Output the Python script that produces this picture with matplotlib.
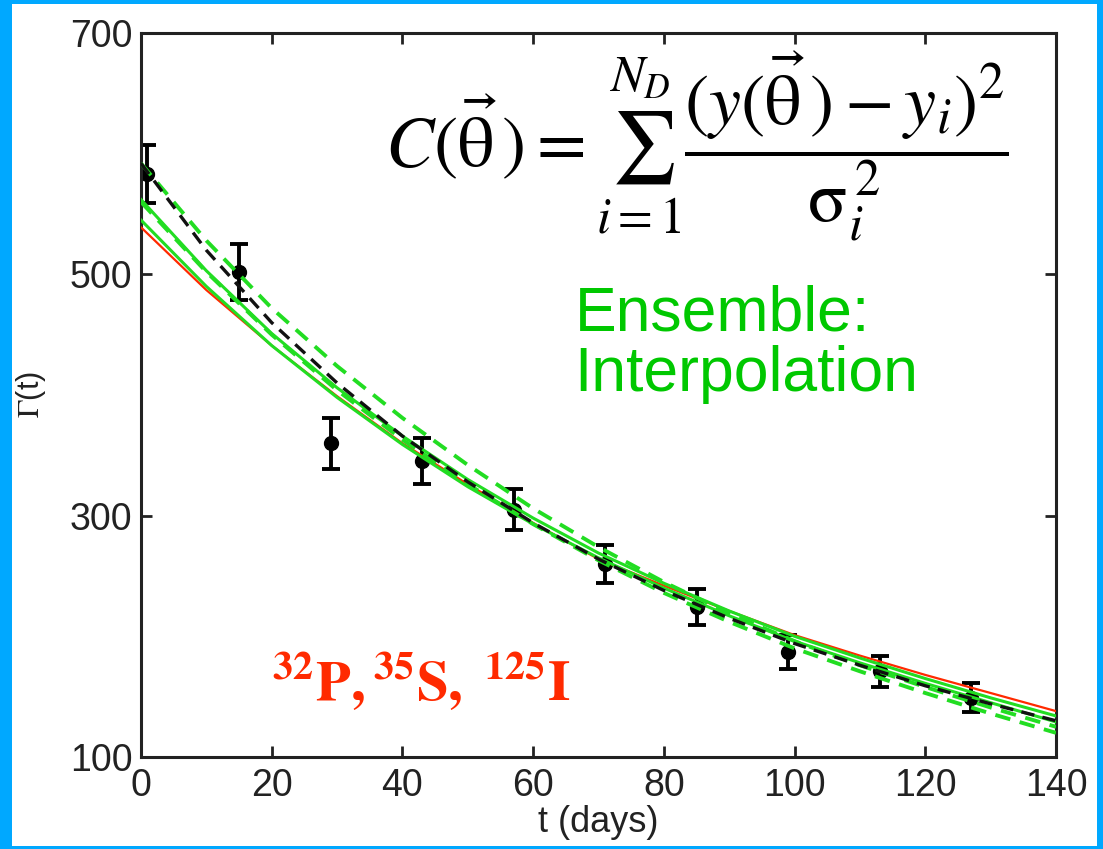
import matplotlib.pyplot as plt
from matplotlib.patches import Rectangle

# puntos medidos (tasa de decaimiento)
t_datos = [1, 15, 29, 43, 57, 71, 85, 99, 113, 127]
gamma_datos = [583, 502, 360, 345, 305, 260, 224, 187, 171, 149]
error_datos = [24, 23, 21, 19, 17, 16, 15, 14, 13, 12]

# curvas del ensamble, leidas cada 10 dias
t_curva = [0, 10, 20, 30, 40, 50, 60, 70, 80, 90, 100, 110, 120, 130, 140]
curva_roja = [539, 487, 441, 399, 360, 326, 294, 264, 242, 221, 201, 184, 168, 153, 138]
curva_negra = [592, 520, 460, 410, 366, 328, 294, 264, 238, 215, 194, 176, 159, 144, 130]
verde_sol_1 = [562, 503, 451, 406, 366, 330, 298, 269, 244, 221, 200, 182, 165, 149, 134]
verde_sol_2 = [545, 490, 441, 398, 359, 324, 293, 265, 240, 217, 196, 178, 161, 145, 129]
verde_dash_1 = [592, 528, 472, 424, 381, 342, 306, 274, 245, 219, 196, 176, 158, 141, 125]
verde_dash_2 = [560, 502, 450, 404, 363, 326, 293, 263, 236, 212, 190, 171, 153, 136, 120]

xticks = [0, 20, 40, 60, 80, 100, 120, 140]
yticks = [100, 300, 500, 700]

azul = '#00A8FF'
verde = '#22DD22'
rojo = '#FF2A00'

plt.rcParams['font.family'] = ['Liberation Sans', 'DejaVu Sans']
plt.rcParams['mathtext.fontset'] = 'stix'

fig = plt.figure(figsize=(11.03, 8.49), dpi=100)
fig.patch.set_facecolor(azul)
fig.add_artist(Rectangle((12 / 1103, 3 / 849), 1 - 18 / 1103, 1 - 7 / 849,
                         transform=fig.transFigure, facecolor='white',
                         edgecolor='none', zorder=-1))

ax = fig.add_axes([0.1278, 0.1084, 0.8296, 0.8527])

ax.errorbar(t_datos, gamma_datos, yerr=error_datos, fmt='o', color='black',
            markersize=10, elinewidth=2.8, capsize=6.5, capthick=2.8, zorder=2)

ax.plot(t_curva, curva_roja, color=rojo, lw=1.6, zorder=3)
ax.plot(t_curva, verde_sol_1, color=verde, lw=2.2, zorder=3)
ax.plot(t_curva, verde_sol_2, color=verde, lw=2.2, zorder=3)
ax.plot(t_curva, verde_dash_1, color=verde, lw=2.8, ls=(0, (4, 2.5)), zorder=3)
ax.plot(t_curva, verde_dash_2, color=verde, lw=2.8, ls=(0, (4, 2.5)), zorder=3)
ax.plot(t_curva, curva_negra, color='#111111', lw=2.4, ls=(0, (4, 2.5)), zorder=4)

ax.set_xlim(0, 140)
ax.set_ylim(100, 700)
ax.set_xticks(xticks)
ax.set_yticks(yticks)
ax.tick_params(direction='in', length=8, width=2, top=True, right=True,
               labelsize=27, colors='#222222')
ax.tick_params(axis='x', pad=8)
ax.tick_params(axis='y', pad=6)
for s in ax.spines.values():
    s.set_linewidth(2.2)
    s.set_color('#222222')

ax.set_xlabel('t (days)', fontsize=26, color='#222222', labelpad=1)
ax.set_ylabel(r'$\Gamma$(t)', fontsize=22, color='#222222', labelpad=16)

# formula del costo
ax.text(0.267, 0.843,
        r'$C(\vec{\mathrm{\theta}}\,) = \sum_{i=1}^{N_D}\dfrac{(y(\vec{\mathrm{\theta}}\,) - y_i)^2}{\mathrm{\sigma}_i^{\,2}}$',
        transform=ax.transAxes, fontsize=52, color='black', va='center', ha='left')

ax.text(0.474, 0.57, 'Ensemble:\nInterpolation', transform=ax.transAxes,
        fontsize=45, color='#00C800', va='center', ha='left', linespacing=1.05)

ax.text(0.143, 0.079, r'$\mathbf{^{32}P,^{35}S,\ ^{125}I}$', transform=ax.transAxes,
        fontsize=41, color=rojo, va='baseline', ha='left')

plt.savefig('out.png', dpi=100, facecolor=fig.get_facecolor())
